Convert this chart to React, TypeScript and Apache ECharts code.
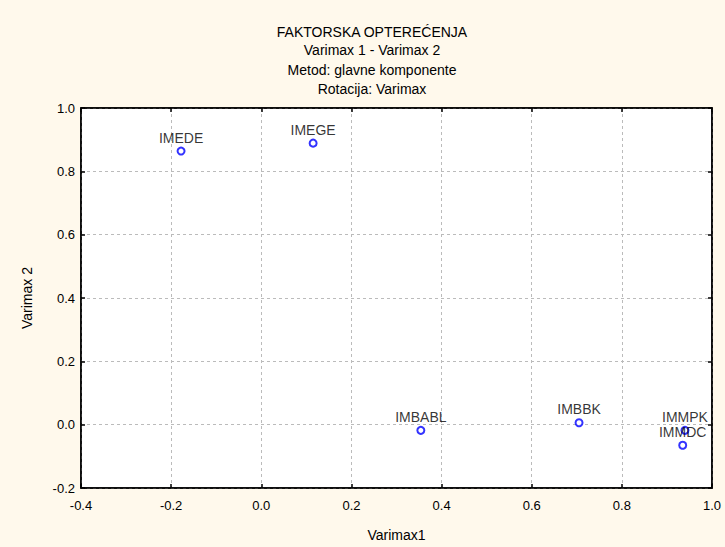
import React, { useEffect, useRef } from "react";
import * as echarts from "echarts";

const titleLines = [
  "FAKTORSKA OPTEREĆENJA",
  "Varimax 1 - Varimax 2",
  "Metod: glavne komponente",
  "Rotacija: Varimax",
];
const variableNames = ["IMEDE", "IMEGE", "IMBABL", "IMBBK", "IMMPK", "IMMDC"];
const varimax1 = [-0.178, 0.115, 0.354, 0.705, 0.94, 0.935];
const varimax2 = [0.864, 0.889, -0.018, 0.006, -0.018, -0.065];
const xTicks = [-0.4, -0.2, 0.0, 0.2, 0.4, 0.6, 0.8, 1.0];
const yTicks = [-0.2, 0.0, 0.2, 0.4, 0.6, 0.8, 1.0];
const xAxisName = "Varimax1";
const yAxisName = "Varimax 2";

const FONT = "'Liberation Sans', Arial, sans-serif";

export default function App() {
  const ref = useRef<HTMLDivElement>(null);
  useEffect(() => {
    if (!ref.current) return;
    const chart = echarts.init(ref.current, undefined, { renderer: "svg" });
    const xMin = xTicks[0];
    const xMax = xTicks[xTicks.length - 1];
    const yMin = yTicks[0];
    const yMax = yTicks[yTicks.length - 1];
    const interval = 0.2;
    const data = variableNames.map((n, i) => ({ name: n, value: [varimax1[i], varimax2[i]] }));
    const axisCommon = {
      type: "value" as const,
      interval,
      axisLine: { show: true, onZero: false, lineStyle: { color: "#000", width: 1.5 } },
      axisTick: { show: true, inside: true, length: 4, lineStyle: { color: "#000", width: 1.5 } },
    };
    chart.setOption({
      animation: false,
      backgroundColor: "#FFF9EC",
      textStyle: { fontFamily: FONT },
      graphic: titleLines.map((t, i) => ({
        type: "text",
        x: 372,
        y: [32, 50, 70, 89][i],
        style: {
          text: t,
          fill: "#000",
          font: `14px ${FONT}`,
          textAlign: "center",
          textVerticalAlign: "middle",
        },
      })),
      grid: {
        left: 81,
        right: 13,
        top: 108,
        bottom: 57,
        show: true,
        backgroundColor: "#fff",
        borderColor: "#000",
        borderWidth: 1.5,
      },
      xAxis: [
        {
          ...axisCommon,
          min: xMin,
          max: xMax,
          position: "bottom",
          name: xAxisName,
          nameLocation: "middle",
          nameGap: 40,
          nameTextStyle: { color: "#000", fontSize: 14, fontFamily: FONT },
          axisLabel: {
            color: "#000",
            fontSize: 13,
            fontFamily: FONT,
            margin: 11,
            formatter: (v: number) => v.toFixed(1),
          },
          splitLine: { show: true, lineStyle: { color: "#bbb", type: [3, 3], width: 1 } },
        },
        {
          ...axisCommon,
          min: xMin,
          max: xMax,
          position: "top",
          axisLabel: { show: false },
          splitLine: { show: false },
        },
      ],
      yAxis: [
        {
          ...axisCommon,
          min: yMin,
          max: yMax,
          position: "left",
          name: yAxisName,
          nameLocation: "middle",
          nameGap: 47,
          nameTextStyle: { color: "#000", fontSize: 14, fontFamily: FONT },
          axisLabel: {
            color: "#000",
            fontSize: 13,
            fontFamily: FONT,
            margin: 6,
            formatter: (v: number) => v.toFixed(1),
          },
          splitLine: { show: true, lineStyle: { color: "#bbb", type: [3, 3], width: 1 } },
        },
        {
          ...axisCommon,
          min: yMin,
          max: yMax,
          position: "right",
          axisLabel: { show: false },
          splitLine: { show: false },
        },
      ],
      series: [
        {
          type: "scatter",
          data,
          symbol: "circle",
          symbolSize: 7,
          itemStyle: { color: "#fff", borderColor: "#0000FF", borderWidth: 2 },
          label: {
            show: true,
            position: "top",
            distance: 2,
            formatter: "{b}",
            color: "#000",
            fontSize: 14,
            fontFamily: FONT,
          },
        },
      ],
    });
    return () => chart.dispose();
  }, []);
  return (
    <div
      ref={ref}
      style={{ position: "absolute", left: 0, top: 0, width: 725, height: 547 }}
    />
  );
}
